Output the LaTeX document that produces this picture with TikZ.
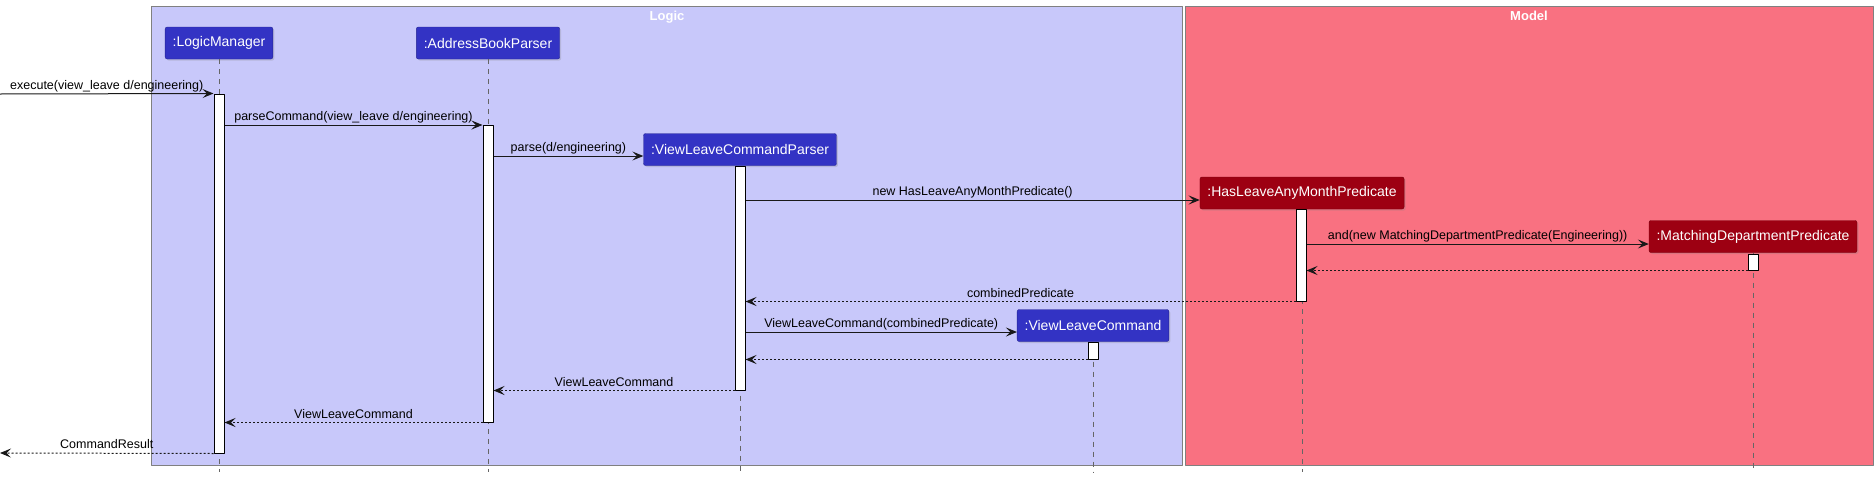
\documentclass[tikz,border=0pt]{standalone}
\usepackage{fontspec}
\setmainfont{Liberation Sans}
\usetikzlibrary{arrows.meta,shadows}
\definecolor{logicC}{HTML}{3333C4}
\definecolor{logicT}{HTML}{C8C8FA}
\definecolor{modelC}{HTML}{9D0012}
\definecolor{modelT}{HTML}{F97181}
\tikzset{
  part/.style={draw=#1!75!black, fill=#1, rounded corners=2pt, text=white,
    drop shadow={shadow xshift=1.5pt, shadow yshift=-1.5pt, opacity=0.25},
    font=\fontsize{14}{16}\selectfont, minimum height=32pt, inner xsep=7.5pt, inner ysep=0pt},
  actbar/.style={draw=black, fill=white, line width=1pt, minimum width=10pt, inner sep=0pt},
  lifeline/.style={black!60, dash pattern=on 5pt off 5pt, line width=0.8pt},
  msg/.style={-{Stealth[length=11pt,width=9pt,inset=4.5pt]}, line width=1pt, black!90},
  ret/.style={msg, dash pattern=on 2pt off 2pt},
  lbl/.style={midway, anchor=base, yshift=4.5pt, text=black, inner sep=0pt,
    font=\fontsize{12.5}{14}\selectfont},
  frametitle/.style={anchor=base, text=white, font=\bfseries\fontsize{13}{15}\selectfont}
}
\begin{document}
\begin{tikzpicture}[x=1pt, y=-1pt, line join=round]
\useasboundingbox (0,0) rectangle (1874,477);
\draw[fill=logicT, draw=black!50] (151.5,6) rectangle (1182.5,465);
\draw[fill=modelT, draw=black!50] (1185,6) rectangle (1873,465);
\node[frametitle] (tLogic) at (667,20.5) {Logic};
\node[frametitle] (tModel) at (1529,20.5) {Model};
% participants
\node[part=logicC] (pLM) at (219,43) {:LogicManager};
\node[part=logicC] (pAB) at (488,43) {:AddressBookParser};
\node[part=logicC] (pVLCP) at (740,149.5) {:ViewLeaveCommandParser};
\node[part=modelC] (pHL) at (1302,193) {:HasLeaveAnyMonthPredicate};
\node[part=modelC] (pMDP) at (1753,236.5) {:MatchingDepartmentPredicate};
\node[part=logicC] (pVLC) at (1093,325.5) {:ViewLeaveCommand};
\foreach \p in {pLM,pAB,pVLCP,pHL,pMDP,pVLC}
  \draw[lifeline] (\p.south) -- (\p.south |- 0,472);
% activations
\node[actbar, minimum height=359pt] (aLM) at (219,273.5) {};
\node[actbar, minimum height=297pt] (aAB) at (488,273.5) {};
\node[actbar, minimum height=224pt] (aVLCP) at (740,278) {};
\node[actbar, minimum height=92pt] (aHL) at (1301,255) {};
\node[actbar, minimum height=16pt] (aMDP) at (1753,262) {};
\node[actbar, minimum height=17pt] (aVLC) at (1093,350.5) {};
% messages
\coordinate (src) at (0,94);
\coordinate (sink) at (0,453);
\draw[msg] (src) -- node[lbl]{execute(view\_leave d/engineering)} (aLM.north west);
\draw[msg] (aLM.east |- 0,125) -- node[lbl]{parseCommand(view\_leave d/engineering)} (aAB.west |- 0,125);
\draw[msg] (aAB.east |- 0,156) -- node[lbl]{parse(d/engineering)} (pVLCP.west |- 0,156);
\draw[msg] (aVLCP.east |- 0,200) -- node[lbl]{new HasLeaveAnyMonthPredicate()} (pHL.west |- 0,200);
\draw[msg] (aHL.east |- 0,244) -- node[lbl]{and(new MatchingDepartmentPredicate(Engineering))} (pMDP.west |- 0,244);
\draw[ret] (aMDP.south west) -- (aHL.east |- aMDP.south);
\draw[ret] (aHL.south west) -- node[lbl]{combinedPredicate} (aVLCP.east |- aHL.south);
\draw[msg] (aVLCP.east |- 0,332) -- node[lbl]{ViewLeaveCommand(combinedPredicate)} (pVLC.west |- 0,332);
\draw[ret] (aVLC.south west) -- (aVLCP.east |- aVLC.south);
\draw[ret] (aVLCP.south west) -- node[lbl]{ViewLeaveCommand} (aAB.east |- aVLCP.south);
\draw[ret] (aAB.south west) -- node[lbl]{ViewLeaveCommand} (aLM.east |- aAB.south);
\draw[ret] (aLM.south west) -- node[lbl]{CommandResult} (sink);
\end{tikzpicture}
\end{document}
